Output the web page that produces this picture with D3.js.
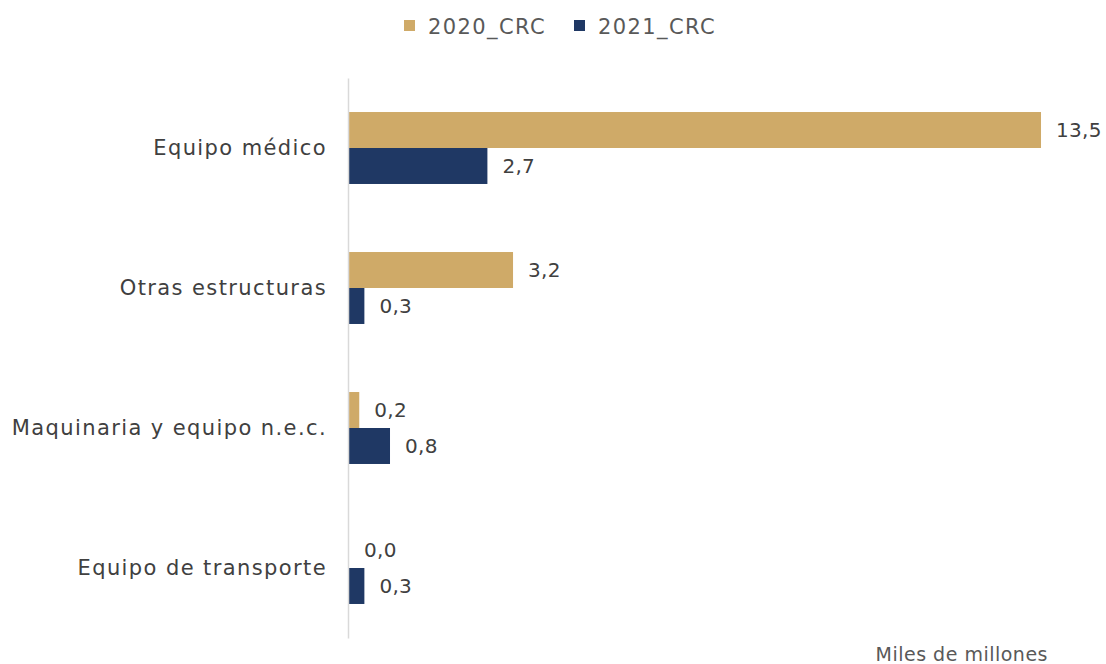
<!DOCTYPE html>
<html>
<head>
<meta charset="utf-8">
<script src="https://cdn.jsdelivr.net/npm/d3@7"></script>
<style>
  html, body { margin: 0; padding: 0; background: #fff; }
  svg { display: block; font-family: "DejaVu Sans", sans-serif; }
</style>
</head>
<body>
<svg id="chart" width="1106" height="664"></svg>
<script>
// Categories (top to bottom) and values in miles de millones CRC
const categories = ["Equipo médico", "Otras estructuras", "Maquinaria y equipo n.e.c.", "Equipo de transporte"];
const seriesNames = ["2020_CRC", "2021_CRC"];
const values2020 = [13.5, 3.2, 0.2, 0.0];
const values2021 = [2.7, 0.3, 0.8, 0.3];
const unitLabel = "Miles de millones";

const colors = { "2020_CRC": "#CFAA68", "2021_CRC": "#1F3864" };
const series = [values2020, values2021];

const svg = d3.select("#chart");
const plotLeft = 349, plotTop = 78, plotBottom = 638;
const pxPerUnit = 51.26;
const fontFamily = "'DejaVu Sans', sans-serif";

const x = d3.scaleLinear().domain([0, 14]).range([plotLeft, plotLeft + 14 * pxPerUnit]);
const y = d3.scaleBand().domain(categories).range([plotTop, plotBottom]).paddingInner(0.486).paddingOuter(0.243);
const ySub = d3.scaleBand().domain(seriesNames).range([0, y.bandwidth()]);

const fmt = v => d3.format(".1f")(v).replace(".", ",");

// Bars and value labels
seriesNames.forEach((name, si) => {
  const g = svg.append("g");
  g.selectAll("rect").data(categories).join("rect")
    .attr("x", x(0))
    .attr("y", c => y(c) + ySub(name))
    .attr("width", (c, i) => x(series[si][i]) - x(0))
    .attr("height", ySub.bandwidth())
    .attr("fill", colors[name]);
  g.selectAll("text").data(categories).join("text")
    .attr("x", (c, i) => x(series[si][i]) + 15)
    .attr("y", c => y(c) + ySub(name) + ySub.bandwidth() / 2)
    .attr("dy", "0.36em")
    .attr("font-size", 20)
    .attr("letter-spacing", 0.3)
    .attr("fill", "#404040")
    .text((c, i) => fmt(series[si][i]));
});

// Category axis (line only, no ticks)
const yAxis = d3.axisLeft(y).tickSize(0).tickPadding(21);
const ag = svg.append("g").attr("transform", `translate(${plotLeft - 1},0)`).call(yAxis);
ag.select(".domain").attr("stroke", "#D9D9D9").attr("stroke-width", 1.5);
ag.selectAll(".tick text")
  .attr("font-size", 21)
  .attr("letter-spacing", 1.4)
  .attr("font-family", fontFamily)
  .attr("fill", "#404040");

// Legend
const legend = svg.append("g");
const legendX = [404, 574];
seriesNames.forEach((name, i) => {
  legend.append("rect").attr("x", legendX[i]).attr("y", 20).attr("width", 11).attr("height", 11).attr("fill", colors[name]);
  legend.append("text").attr("x", legendX[i] + 24).attr("y", 26).attr("dy", "0.36em")
    .attr("font-size", 21).attr("letter-spacing", 1.4).attr("fill", "#595959").text(name);
});

// Unit note
svg.append("text").attr("x", 1048).attr("y", 661)
  .attr("text-anchor", "end").attr("font-size", 19).attr("letter-spacing", 0.5)
  .attr("fill", "#595959").text(unitLabel);
</script>
</body>
</html>
